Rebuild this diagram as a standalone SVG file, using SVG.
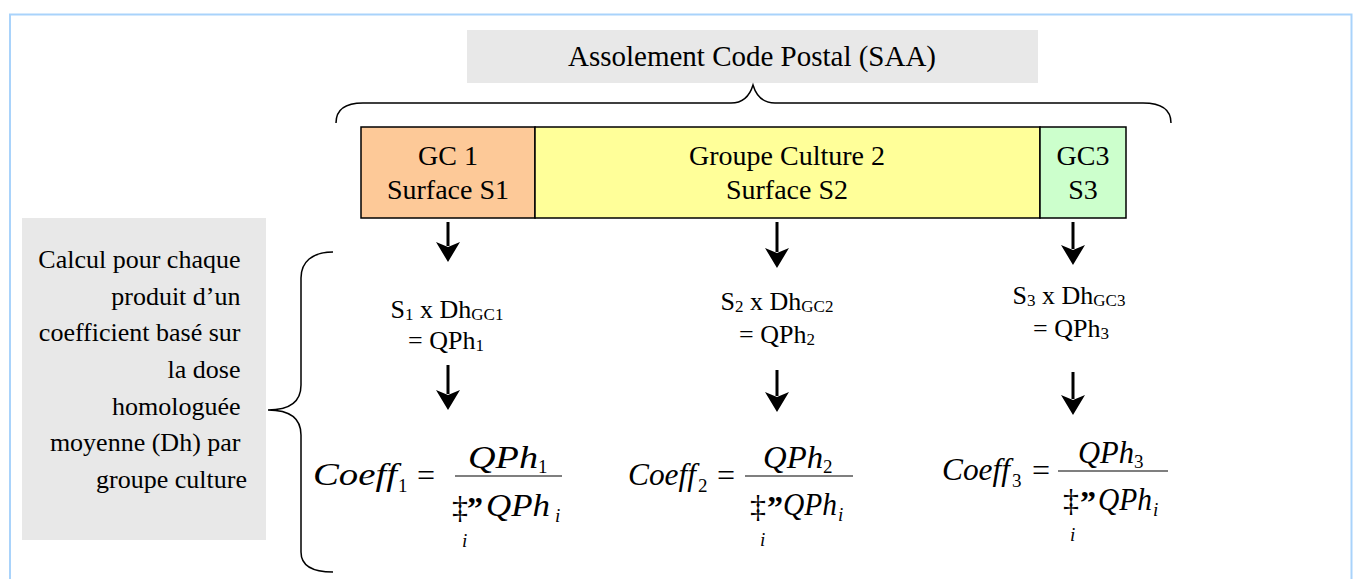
<svg xmlns="http://www.w3.org/2000/svg" width="1357" height="579" viewBox="0 0 1357 579">
<defs>
<style>
.t{font-family:"Liberation Serif","Times New Roman",serif;fill:#000}
.lbl{font-size:26px}
.gc{font-size:28px}
.sb{font-size:26px}
.m{font-family:"Liberation Serif","Times New Roman",serif;font-style:italic;font-size:31px;fill:#000}
.ms{font-family:"Liberation Serif","Times New Roman",serif;font-size:19px;fill:#000}
.msi{font-family:"Liberation Serif","Times New Roman",serif;font-style:italic;font-size:19px;fill:#000}
.sig{font-family:"Liberation Serif","Times New Roman",serif;font-size:32px;fill:#000}
.q{font-family:"Liberation Serif","Times New Roman",serif;font-size:32px;font-weight:bold;fill:#000}
.gray{fill:#e8e8e8}
.cell{stroke:#000;stroke-width:1.5}
.brace{fill:none;stroke:#000;stroke-width:1.5}
.arr{stroke:#000;stroke-width:3;fill:none;marker-end:url(#ah)}
.bar{stroke:#000;stroke-width:1.2}
</style>
<marker id="ah" markerUnits="userSpaceOnUse" viewBox="0 0 22 24" refX="4" refY="12" markerWidth="22" markerHeight="24" orient="auto">
<path d="M0,0 L20,12 L0,24 L5,12 z" fill="#000"/>
</marker>
</defs>
<rect x="10" y="14.5" width="1341.5" height="620" fill="none" stroke="#a9d3fb" stroke-width="2"/>

<g id="title">
<rect class="gray" x="467" y="30" width="571" height="53"/>
<text class="t" x="752" y="66" font-size="29" text-anchor="middle" textLength="368" lengthAdjust="spacingAndGlyphs">Assolement Code Postal (SAA)</text>
</g>

<g id="left-note">
<rect class="gray" x="22" y="218" width="244" height="322"/>
<text class="t lbl" text-anchor="end">
<tspan x="247" y="268">Calcul pour chaque</tspan>
<tspan x="247" y="304.7">produit d’un</tspan>
<tspan x="247" y="341.3">coefficient basé sur</tspan>
<tspan x="247" y="378">la dose</tspan>
<tspan x="247" y="414.7">homologuée</tspan>
<tspan x="247" y="451.3">moyenne (Dh) par</tspan>
<tspan x="247" y="488">groupe culture</tspan>
</text>
</g>

<g id="gc1">
<rect class="cell" x="361" y="127" width="174" height="91" fill="#fdc998"/>
<text class="t gc" text-anchor="middle"><tspan x="448" y="165">GC 1</tspan><tspan x="448" y="199">Surface S1</tspan></text>
</g>
<g id="gc2">
<rect class="cell" x="535" y="127" width="505" height="91" fill="#ffff99"/>
<text class="t gc" text-anchor="middle"><tspan x="787" y="165">Groupe Culture 2</tspan><tspan x="787" y="199">Surface S2</tspan></text>
</g>
<g id="gc3">
<rect class="cell" x="1040" y="127" width="86" height="91" fill="#ccffcc"/>
<text class="t gc" text-anchor="middle"><tspan x="1083" y="165">GC3</tspan><tspan x="1083" y="199">S3</tspan></text>
</g>

<g id="calc1">
<text class="t sb" x="447" y="318" text-anchor="middle">S<tspan font-size="17" dy="2">1</tspan><tspan dy="-2"> x Dh</tspan><tspan font-size="17" dy="2">GC1</tspan></text>
<text class="t sb" x="446" y="349" text-anchor="middle">= QPh<tspan font-size="17" dy="2">1</tspan></text>
</g>
<g id="calc2">
<text class="t sb" x="777" y="310" text-anchor="middle">S<tspan font-size="17" dy="2">2</tspan><tspan dy="-2"> x Dh</tspan><tspan font-size="17" dy="2">GC2</tspan></text>
<text class="t sb" x="777" y="343" text-anchor="middle">= QPh<tspan font-size="17" dy="2">2</tspan></text>
</g>
<g id="calc3">
<text class="t sb" x="1069" y="304" text-anchor="middle">S<tspan font-size="17" dy="2">3</tspan><tspan dy="-2"> x Dh</tspan><tspan font-size="17" dy="2">GC3</tspan></text>
<text class="t sb" x="1071" y="337" text-anchor="middle">= QPh<tspan font-size="17" dy="2">3</tspan></text>
</g>

<g id="formula1">
<text class="m" x="313" y="485" textLength="84" lengthAdjust="spacingAndGlyphs">Coeff</text>
<text class="ms" x="398" y="492">1</text>
<text class="t" x="417" y="486" font-size="32">=</text>
<line class="bar" x1="455" y1="476" x2="562" y2="476"/>
<text class="m" x="468" y="468" textLength="70" lengthAdjust="spacingAndGlyphs">QPh</text>
<text class="ms" x="538" y="473">1</text>
<text class="sig" x="452" y="518">‡</text>
<text class="q" x="467" y="519">”</text>
<text class="m" x="486" y="516" textLength="64" lengthAdjust="spacingAndGlyphs">QPh</text>
<text class="msi" x="555" y="522">i</text>
<text class="msi" x="462" y="547">i</text>
</g>

<g id="formula2">
<text class="m" x="628" y="485" textLength="68" lengthAdjust="spacingAndGlyphs">Coeff</text>
<text class="ms" x="698" y="492">2</text>
<text class="t" x="717" y="486" font-size="32">=</text>
<line class="bar" x1="745" y1="476" x2="853" y2="476"/>
<text class="m" x="763" y="468" textLength="60" lengthAdjust="spacingAndGlyphs">QPh</text>
<text class="ms" x="823" y="473">2</text>
<text class="sig" x="750" y="517">‡</text>
<text class="q" x="767" y="518">”</text>
<text class="m" x="783" y="515" textLength="54" lengthAdjust="spacingAndGlyphs">QPh</text>
<text class="msi" x="838" y="521">i</text>
<text class="msi" x="760" y="546">i</text>
</g>

<g id="formula3">
<text class="m" x="942" y="480" textLength="68" lengthAdjust="spacingAndGlyphs">Coeff</text>
<text class="ms" x="1012" y="487">3</text>
<text class="t" x="1032" y="481" font-size="32">=</text>
<line class="bar" x1="1058" y1="471" x2="1168" y2="471"/>
<text class="m" x="1078" y="463" textLength="56" lengthAdjust="spacingAndGlyphs">QPh</text>
<text class="ms" x="1134" y="468">3</text>
<text class="sig" x="1063" y="511">‡</text>
<text class="q" x="1080" y="513">”</text>
<text class="m" x="1098" y="510" textLength="54" lengthAdjust="spacingAndGlyphs">QPh</text>
<text class="msi" x="1153" y="516">i</text>
<text class="msi" x="1070" y="541">i</text>
</g>

<g id="connectors">
<path class="brace" d="M336,123 C336,110 345,103 363,103 L731,103 C744,103 750,95 753,85 C756,95 762,103 775,103 L1143,103 C1162,103 1171,110 1171,123"/>
<path class="brace" d="M333,252 C312,252 301,262 301,278 L301,385 C301,402 290,410 268,410 C290,410 301,418 301,435 L301,552 C301,565 312,572 333,572"/>
<line class="arr" x1="448" y1="222" x2="448" y2="246"/>
<line class="arr" x1="777" y1="222" x2="777" y2="252"/>
<line class="arr" x1="1073" y1="222" x2="1073" y2="249"/>
<line class="arr" x1="448" y1="365" x2="448" y2="394"/>
<line class="arr" x1="777" y1="370" x2="777" y2="396"/>
<line class="arr" x1="1073" y1="372" x2="1073" y2="399"/>
</g>
</svg>
